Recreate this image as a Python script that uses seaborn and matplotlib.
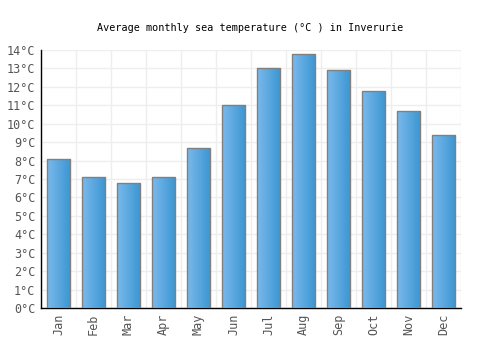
import numpy as np
import pandas as pd
import matplotlib
matplotlib.use('Agg')
import matplotlib.pyplot as plt
import seaborn as sns
from matplotlib.colors import LinearSegmentedColormap

# monthly sea temperature data
months = ['Jan', 'Feb', 'Mar', 'Apr', 'May', 'Jun', 'Jul', 'Aug', 'Sep', 'Oct', 'Nov', 'Dec']
temps = [8.1, 7.1, 6.8, 7.1, 8.7, 11.0, 13.0, 13.8, 12.9, 11.8, 10.7, 9.4]
yticks = list(range(0, 15))
ytick_labels = [f'{t}°C' for t in yticks]

df = pd.DataFrame({'month': months, 'temp': temps})

sns.set_style('white')
plt.rcParams['font.family'] = ['DejaVu Sans Mono']

fig = plt.figure(figsize=(5, 3.5), dpi=100)
ax = fig.add_axes([0.082, 0.12, 0.84, 0.737])

sns.barplot(data=df, x='month', y='temp', ax=ax, width=0.66,
            color='#4a9fdc', edgecolor='#808080', linewidth=1, zorder=3)

# horizontal gradient on each bar
cmap = LinearSegmentedColormap.from_list('bluegrad', ['#7ab9ec', '#3b96d2'])
grad = np.linspace(0, 1, 64).reshape(1, -1)
for p in ax.patches:
    x0, y0 = p.get_x(), p.get_y()
    w, h = p.get_width(), p.get_height()
    im = ax.imshow(grad, cmap=cmap, aspect='auto', zorder=3.5,
                   extent=[x0, x0 + w, y0, y0 + h])
    im.set_clip_path(p)
    p.set_facecolor('none')
    p.set_zorder(4)

ax.set_xlim(-0.5, len(months) - 0.5)
ax.set_ylim(0, 14)
ax.set_yticks(yticks)
ax.set_yticklabels(ytick_labels)
ax.set_xticks(range(len(months)))
ax.set_xticklabels(months, rotation=90)

# grid lines between categories
ax.set_xticks(np.arange(-0.5, len(months), 1), minor=True)
ax.grid(True, which='minor', axis='x', color='#eeeeee', linewidth=1, zorder=0)
ax.grid(True, which='major', axis='y', color='#eeeeee', linewidth=1, zorder=0)
ax.grid(False, which='major', axis='x')

ax.tick_params(axis='both', which='both', length=0, labelsize=8.5, labelcolor='#555555', pad=4)
ax.set_xlabel('')
ax.set_ylabel('')

for side in ['top', 'right']:
    ax.spines[side].set_visible(False)
ax.spines['left'].set_color('black')
ax.spines['bottom'].set_color('black')
ax.spines['left'].set_linewidth(1)
ax.spines['bottom'].set_linewidth(1)

fig.suptitle('Average monthly sea temperature (°C ) in Inverurie', y=0.935, fontsize=7.3, color='black')

fig.savefig('out.png', dpi=100)
